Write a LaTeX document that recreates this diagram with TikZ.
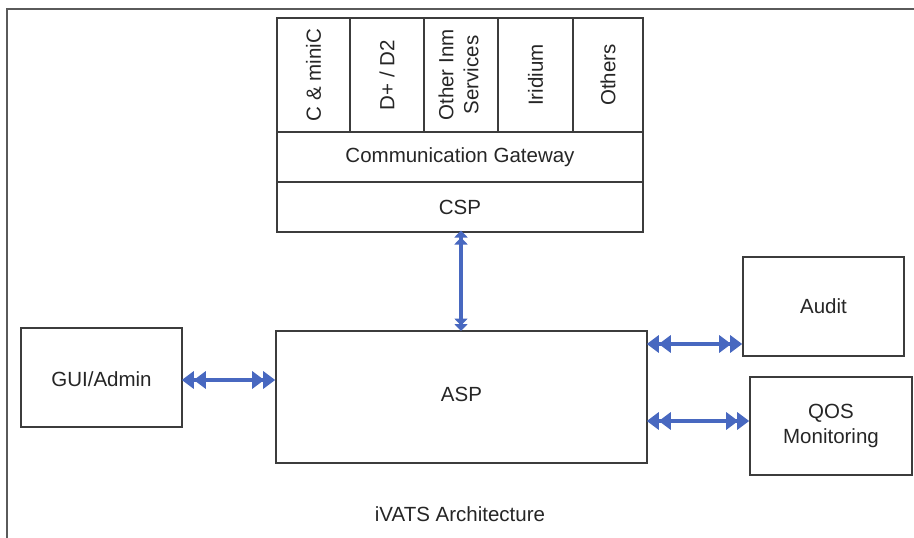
\documentclass[tikz,border=0pt]{standalone}
\usepackage{fontspec}
\setmainfont{Liberation Sans}
\usetikzlibrary{arrows.meta}
\definecolor{boxline}{RGB}{60,60,60}
\definecolor{arrblue}{RGB}{72,104,192}
\definecolor{frameline}{RGB}{90,90,90}
\begin{document}
\begin{tikzpicture}[x=1pt,y=-1pt,
  box/.style={draw=boxline,line width=1.6pt,rectangle,inner sep=0pt,align=center,
    font=\fontsize{20.5}{24}\selectfont,text=black!85},
  col/.style={box,minimum width=74pt,minimum height=114pt},
  conn/.style={draw=arrblue,line width=4.5pt,
    {Triangle[length=12pt,width=17pt,sep=-1pt]Triangle[length=12pt,width=17pt]}-{Triangle[length=12pt,width=17pt,sep=-1pt]Triangle[length=12pt,width=17pt]}},
  vconn/.style={draw=arrblue,line width=4.5pt,
    {Triangle[length=7pt,width=13pt,sep=-1.5pt]Triangle[length=7pt,width=13pt]}-{Triangle[length=7pt,width=13pt,sep=-1.5pt]Triangle[length=7pt,width=13pt]}}
]
\useasboundingbox (0,0) rectangle (914,538);
\fill[white] (0,0) rectangle (914,538);
% outer frame
\draw[frameline,line width=1.8pt] (7,538) -- (7,9) -- (914,9);

% columns
\node[col,minimum width=73pt] (c1) at (313.5,75) {\rotatebox{90}{C \& miniC}};
\node[col] (c2) at (387,75) {\rotatebox{90}{D+ / D2}};
\node[col] (c3) at (461,75) {\rotatebox{90}{\begin{tabular}{@{}c@{}}Other Inm\\[1pt]Services\end{tabular}}};
\node[col,minimum width=75pt] (c4) at (535.5,75) {\rotatebox{90}{Iridium}};
\node[col,minimum width=70pt] (c5) at (608,75) {\rotatebox{90}{Others}};

\node[box,minimum width=366pt,minimum height=50pt] (gw) at (460,157) {Communication Gateway};
\node[box,minimum width=366pt,minimum height=50pt] (csp) at (460,207) {CSP};

\node[box,minimum width=371pt,minimum height=132pt] (asp) at (461.5,397) {};
\node (asplabel) at (461.5,394) [font=\fontsize{20.5}{24}\selectfont,text=black!85] {ASP};

\node[box,minimum width=161pt,minimum height=99pt] (gui) at (101.5,377.5) {};
\node (guilabel) at (101.5,379) [font=\fontsize{20.5}{24}\selectfont,text=black!85] {GUI/Admin};

\node[box,minimum width=161pt,minimum height=99pt] (audit) at (823.5,306.5) {Audit};
\node[box,minimum width=162pt,minimum height=98pt] (qos) at (831,426) {QOS\\[1pt]Monitoring};

\node (title) at (460,514) [font=\fontsize{20.5}{24}\selectfont,text=black!85] {iVATS Architecture};

% connectors
\coordinate (ya) at (0,344);
\coordinate (yq) at (0,421);
\coordinate (yg) at (0,380);
\draw[vconn] ([yshift=0.8pt]csp.south -| 461,0) -- ([yshift=-0.8pt]asp.north -| 461,0);
\draw[conn] (gui.east |- yg) -- (asp.west |- yg);
\draw[conn] (asp.east |- ya) -- (audit.west |- ya);
\draw[conn] (asp.east |- yq) -- (qos.west |- yq);
\end{tikzpicture}
\end{document}
